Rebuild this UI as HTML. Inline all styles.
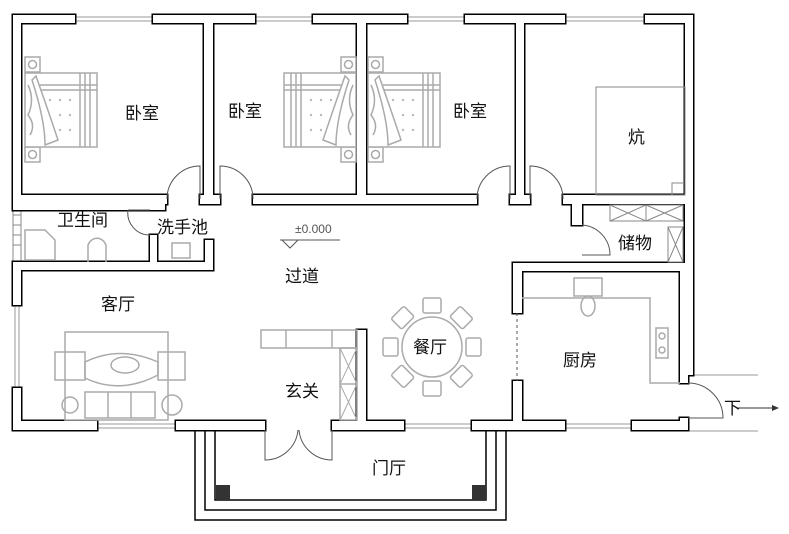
<!DOCTYPE html>
<html><head><meta charset="utf-8"><style>
html,body{margin:0;padding:0;background:#fff}
svg{display:block}
text{font-family:"Liberation Sans","Noto Sans CJK SC",sans-serif;font-size:17px;fill:#111}
.g{fill:none;stroke:#aaa;stroke-width:1.5}
.t{fill:none;stroke:#555;stroke-width:1}
.win{stroke:#999;stroke-width:1}
</style></head><body>
<svg width="789" height="534" viewBox="0 0 789 534" xmlns="http://www.w3.org/2000/svg">
<defs>
<g id="walls">
<rect x="13" y="15" width="62" height="8"/>
<rect x="153" y="15" width="102" height="8"/>
<rect x="313" y="15" width="94" height="8"/>
<rect x="465" y="15" width="100" height="8"/>
<rect x="645" y="15" width="48" height="8"/>
<rect x="13" y="15" width="8" height="190"/>
<rect x="13" y="263" width="8" height="42"/>
<rect x="13" y="388" width="8" height="42"/>
<rect x="685" y="15" width="8" height="360"/>
<rect x="204" y="15" width="9" height="189"/>
<rect x="357" y="15" width="9" height="189"/>
<rect x="516" y="15" width="8" height="189"/>
<rect x="13" y="195" width="154" height="9"/>
<rect x="200" y="195" width="20" height="9"/>
<rect x="253" y="195" width="224" height="9"/>
<rect x="510" y="195" width="20" height="9"/>
<rect x="563" y="195" width="130" height="9"/>
<rect x="13" y="203" width="152" height="7"/>
<rect x="150" y="235" width="7" height="30"/>
<rect x="13" y="262" width="200" height="8"/>
<rect x="205" y="240" width="8" height="30"/>
<rect x="572" y="200" width="10" height="25"/>
<rect x="513" y="263" width="175" height="8"/>
<rect x="513" y="263" width="9" height="50"/>
<rect x="513" y="381" width="9" height="49"/>
<rect x="680" y="263" width="8" height="120"/>
<rect x="680" y="418" width="8" height="12"/>
<rect x="357" y="330" width="9" height="100"/>
<rect x="13" y="421" width="84" height="9"/>
<rect x="176" y="421" width="89" height="9"/>
<rect x="332" y="421" width="72" height="9"/>
<rect x="472" y="421" width="93" height="9"/>
<rect x="632" y="421" width="56" height="9"/>
</g>
</defs>
<!-- windows (thin lines) -->
<g class="win">
<line x1="75" y1="17" x2="153" y2="17"/><line x1="75" y1="21" x2="153" y2="21"/>
<line x1="255" y1="17" x2="313" y2="17"/><line x1="255" y1="21" x2="313" y2="21"/>
<line x1="407" y1="17" x2="465" y2="17"/><line x1="407" y1="21" x2="465" y2="21"/>
<line x1="565" y1="17" x2="645" y2="17"/><line x1="565" y1="21" x2="645" y2="21"/>
<line x1="15" y1="305" x2="15" y2="388"/><line x1="19" y1="305" x2="19" y2="388"/>
<line x1="97" y1="424" x2="176" y2="424"/><line x1="97" y1="428" x2="176" y2="428"/>
<line x1="404" y1="424" x2="472" y2="424"/><line x1="404" y1="428" x2="472" y2="428"/>
<line x1="565" y1="424" x2="632" y2="424"/><line x1="565" y1="428" x2="632" y2="428"/>
<line x1="688" y1="375" x2="758" y2="375"/><line x1="688" y1="431" x2="758" y2="431"/>
</g>
<rect x="13" y="205" width="8" height="58" fill="#fff" stroke="#888" stroke-width="1"/>
<line x1="13" y1="215" x2="21" y2="215" stroke="#888"/><line x1="13" y1="225" x2="21" y2="225" stroke="#888"/><line x1="13" y1="235" x2="21" y2="235" stroke="#888"/><line x1="13" y1="245" x2="21" y2="245" stroke="#888"/>
<!-- walls -->
<use href="#walls" fill="#fff" stroke="#000" stroke-width="3"/>
<use href="#walls" fill="#fff" stroke="none"/>
<!-- porch -->
<g fill="none" stroke="#000" stroke-width="1.5">
<path d="M195 430 V520 H506 V430"/>
<path d="M205 430 V510 H496 V430"/>
<path d="M215 430 V500 H486 V430"/>
</g>
<rect x="216" y="485" width="14" height="15" fill="#333"/>
<rect x="472" y="485" width="14" height="15" fill="#333"/>
<!-- doors -->
<g class="t">
<path d="M167 199 A33 33 0 0 1 200 166 V199"/>
<path d="M253 199 A33 33 0 0 0 220 166 V199"/>
<path d="M477 199 A33 33 0 0 1 510 166 V199"/>
<path d="M563 199 A33 33 0 0 0 530 166 V199"/>
<path d="M128 210 A22 22 0 0 0 150 235 M128 210 H150"/>
<path d="M582 225 A30 30 0 0 1 610 255 H582"/>
<path d="M265 430 V460 A33 33 0 0 0 298 430 M332 430 V460 A33 33 0 0 1 299 430"/>
<path d="M688 383 A35 35 0 0 1 723 418 H688"/>
<line x1="517" y1="313" x2="517" y2="381" stroke-dasharray="3,3"/>
</g>
<!-- 炕 -->
<rect x="596" y="87" width="89" height="108" fill="none" stroke="#888" stroke-width="1"/>
<path d="M672 195 V183 H684" fill="none" stroke="#888"/>
<!-- storage cabinets -->
<g fill="none" stroke="#888" stroke-width="1">
<rect x="610" y="205" width="73" height="16"/><line x1="646" y1="205" x2="646" y2="221"/>
<path d="M610 205 L646 221 M646 205 L610 221 M646 205 L683 221 M683 205 L646 221"/>
<rect x="668" y="227" width="15" height="35"/><path d="M668 227 L683 262 M683 227 L668 262"/>
</g>
<!-- foyer cabinets -->
<g fill="none" stroke="#aaa" stroke-width="1.5">
<rect x="261" y="330" width="96" height="18"/><line x1="286" y1="330" x2="286" y2="348"/><line x1="332" y1="330" x2="332" y2="348"/>
<rect x="340" y="348" width="17" height="72"/><line x1="340" y1="384" x2="357" y2="384"/>
<path d="M340 348 L357 384 M357 348 L340 384 M340 384 L357 420 M357 384 L340 420" stroke-width="1"/>
</g>
<!-- beds -->
<g id="bed" class="g">
<rect x="25" y="57" width="15" height="15"/><circle cx="32.5" cy="64.5" r="4"/>
<rect x="25" y="147" width="15" height="15"/><circle cx="32.5" cy="154.5" r="4"/>
<rect x="25" y="73" width="72" height="74" fill="#fff"/>
<line x1="40" y1="85" x2="97" y2="85"/><line x1="40" y1="90" x2="97" y2="90"/>
<line x1="80" y1="73" x2="80" y2="147"/><line x1="85" y1="73" x2="85" y2="147"/><line x1="90" y1="73" x2="90" y2="147"/>
<path d="M32 80 Q45 120 45 145 L58 140 Q48 110 36 76 Z" fill="#fff"/>
<path d="M28 85 Q35 100 28 115 Q36 125 30 135"/>
<g fill="#bbb" stroke="none">
<circle cx="50" cy="100" r="1.2"/><circle cx="60" cy="100" r="1.2"/><circle cx="70" cy="100" r="1.2"/><circle cx="60" cy="115" r="1.2"/><circle cx="70" cy="115" r="1.2"/><circle cx="60" cy="130" r="1.2"/><circle cx="70" cy="130" r="1.2"/>
</g>
</g>
<use href="#bed" transform="translate(381,0) scale(-1,1)"/>
<use href="#bed" transform="translate(343,0)"/>
<!-- bathroom -->
<g class="g">
<path d="M25 230 H45 L55 240 V260 H25 Z"/>
<path d="M88 262 V245 A10 12 0 0 1 106 245 V262"/>
<rect x="172" y="243" width="18" height="15"/>
</g>
<!-- living room set -->
<g class="g">
<rect x="65" y="332" width="103" height="88"/>
<path d="M85 362 Q120 345 158 362 L158 375 Q120 395 85 378 Z"/>
<ellipse cx="125" cy="365" rx="14" ry="8"/>
<rect x="55" y="352" width="30" height="28"/>
<rect x="158" y="352" width="27" height="28"/>
<rect x="85" y="392" width="70" height="26"/><line x1="108" y1="392" x2="108" y2="418"/><line x1="131" y1="392" x2="131" y2="418"/>
<circle cx="70" cy="405" r="8"/><circle cx="172" cy="405" r="10"/>
</g>
<!-- dining -->
<g class="g" stroke-width="2.5">
<circle cx="432" cy="347" r="30"/>
<g id="ch"><rect x="423" y="298" width="18" height="15" rx="2"/></g>
<use href="#ch" transform="rotate(45 432 347)"/><use href="#ch" transform="rotate(90 432 347)"/><use href="#ch" transform="rotate(135 432 347)"/>
<use href="#ch" transform="rotate(180 432 347)"/><use href="#ch" transform="rotate(225 432 347)"/><use href="#ch" transform="rotate(270 432 347)"/><use href="#ch" transform="rotate(315 432 347)"/>
</g>
<!-- kitchen -->
<g class="g">
<path d="M522 298 H650 V383 H680"/>
<rect x="574" y="278" width="28" height="18"/>
<ellipse cx="588" cy="306" rx="7" ry="10"/>
<rect x="656" y="328" width="12" height="30"/><circle cx="662" cy="336" r="3"/><circle cx="662" cy="350" r="3"/>
</g>
<!-- elevation mark -->
<text x="295" y="233" style="font-size:12px;fill:#555">±0.000</text>
<path d="M280 240 H340 M282 240 L290 248 L298 240" fill="none" stroke="#555"/>
<!-- arrow -->
<line x1="738" y1="408" x2="772" y2="408" stroke="#333"/>
<path d="M772 405 L779 408 L772 411 Z" fill="#333"/>
<!-- labels -->
<text x="125" y="119">卧室</text>
<text x="228" y="117">卧室</text>
<text x="453" y="117">卧室</text>
<text x="628" y="143">炕</text>
<text x="57" y="226">卫生间</text>
<text x="157" y="233">洗手池</text>
<text x="618" y="249">储物</text>
<text x="285" y="282">过道</text>
<text x="101" y="310">客厅</text>
<text x="413" y="353">餐厅</text>
<text x="563" y="366">厨房</text>
<text x="285" y="397">玄关</text>
<text x="372" y="474">门厅</text>
<text x="724" y="414">下</text>
</svg>
</body></html>
